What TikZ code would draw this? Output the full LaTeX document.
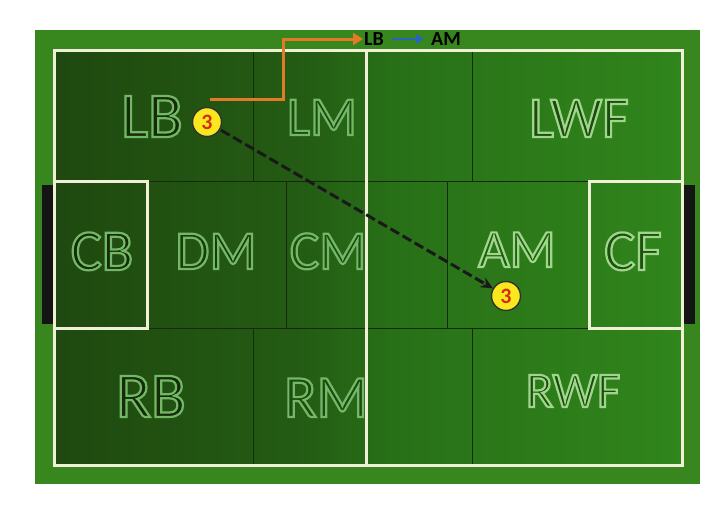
\documentclass[tikz,border=0pt]{standalone}
\usepackage{fontspec}
\setmainfont{Carlito}
\usetikzlibrary{arrows.meta}
\definecolor{border}{RGB}{56,134,30}
\definecolor{pA}{RGB}{24,48,10}
\definecolor{pB}{RGB}{36,92,20}
\definecolor{pC}{RGB}{40,112,24}
\definecolor{pD}{RGB}{58,156,32}
\definecolor{zline}{RGB}{22,42,12}
\definecolor{chalk}{RGB}{240,240,214}
\definecolor{orng}{RGB}{226,122,40}
\definecolor{blu}{RGB}{40,100,190}
\definecolor{ylw}{RGB}{250,232,30}
\definecolor{numred}{RGB}{210,48,16}
\pgfdeclarehorizontalshading{pitch}{100bp}{color(0bp)=(pA); color(45bp)=(pB); color(52bp)=(pC); color(100bp)=(pD)}
\def\olA{0.45 0.72 0.40}
\def\olB{0.62 0.84 0.54}
% outlined text: fill colour #2, stroke colour #1 (rgb triple)
\newcommand\olabel[3][\olA]{{\color{#2}\special{pdf:literal direct 2 Tr 2.2 w #1 RG}#3\special{pdf:literal direct 0 Tr}}}
\tikzset{
  zlab/.style={inner sep=0pt, anchor=base},
  zoneline/.style={draw=zline, line width=0.9pt},
  chalkline/.style={draw=chalk, line width=3pt},
  player/.style={circle, fill=ylw, draw=black!80, line width=1.4pt, minimum size=29pt, inner sep=0pt,
    text=numred, font=\fontsize{22}{22}\selectfont\bfseries},
  pass/.style={draw=black!90, line width=3pt, dash pattern=on 10pt off 4pt,
    -{Stealth[length=12pt,width=11pt]}, shorten <=1pt},
  run/.style={draw=orng, line width=3pt, -{Triangle[length=10pt,width=12pt]}},
  toptxt/.style={inner sep=1pt, font=\fontsize{20}{20}\selectfont\bfseries, text=black},
  bluarrow/.style={draw=blu, line width=2.2pt, -{Triangle[length=8pt,width=9pt]}, shorten <=7pt, shorten >=6pt}
}
\begin{document}
\begin{tikzpicture}[x=1pt,y=-1pt]
\useasboundingbox (0,0) rectangle (721,506);
\fill[white] (0,0) rectangle (721,506);
% outer grass
\fill[border] (35,30) rectangle (700,484);
% pitch gradient
\shade[shading=pitch] (54,50) rectangle (682,465);
% zone lines
\draw[zoneline] (54,181) -- (682,181);
\draw[zoneline] (54,328) -- (682,328);
\draw[zoneline] (253,50) -- (253,181);
\draw[zoneline] (472,50) -- (472,181);
\draw[zoneline] (286,181) -- (286,328);
\draw[zoneline] (447,181) -- (447,328);
\draw[zoneline] (253,328) -- (253,465);
\draw[zoneline] (472,328) -- (472,465);
% goals
\fill[black!92] (42,185) rectangle (55,324);
\fill[black!92] (681,185) rectangle (695,324);
% chalk lines
\draw[chalkline] (54,50) rectangle (682,465);
\draw[chalkline] (366,50) -- (366,465);
\draw[chalkline] (54,181) rectangle (147,328);
\draw[chalkline] (589,181) rectangle (682,328);
% zone labels
\node[zlab, font=\fontsize{64}{64}\selectfont] (LB) at (152,137) {\olabel{pA!90!black}{LB}};
\node[zlab, font=\fontsize{55}{55}\selectfont] (LM) at (322,135) {\olabel{pB!80!black}{LM}};
\node[zlab, font=\fontsize{58}{58}\selectfont] (LWF) at (579,137) {\olabel[\olB]{pB!80!black}{LWF}};
\node[zlab, font=\fontsize{58}{58}\selectfont] (CB) at (102,270) {\olabel{pA!90!black}{CB}};
\node[zlab, font=\fontsize{55}{55}\selectfont] (DM) at (216,269) {\olabel{pA!75!pB}{DM}};
\node[zlab, font=\fontsize{55}{55}\selectfont] (CM) at (328,269) {\olabel{pB!85!black}{CM}};
\node[zlab, font=\fontsize{54}{54}\selectfont] (AM) at (517,267) {\olabel[\olB]{pC!85!black}{AM}};
\node[zlab, font=\fontsize{58}{58}\selectfont] (CF) at (633,270) {\olabel[\olB]{pB!85!black}{CF}};
\node[zlab, font=\fontsize{64}{64}\selectfont] (RB) at (151,417) {\olabel{pA!90!black}{RB}};
\node[zlab, font=\fontsize{60}{60}\selectfont] (RM) at (326,417) {\olabel{pB!80!black}{RM}};
\node[zlab, font=\fontsize{50}{50}\selectfont] (RWF) at (573,407) {\olabel[\olB]{pB!80!black}{RWF}};
% players
\node[player] (p1) at (207,122) {3};
\node[player] (p2) at (506,296) {3};
\draw[pass] (p1) -- (p2);
% top caption
\node[toptxt, anchor=west] (tLB) at (363,39) {LB};
\node[toptxt, anchor=west] (tAM) at (430,39) {AM};
\draw[bluarrow] (tLB.east) -- (tAM.west);
\coordinate (runstart) at (210,99);
\draw[run] (runstart) -- ++(73,0) |- (tLB.west);
\end{tikzpicture}
\end{document}
